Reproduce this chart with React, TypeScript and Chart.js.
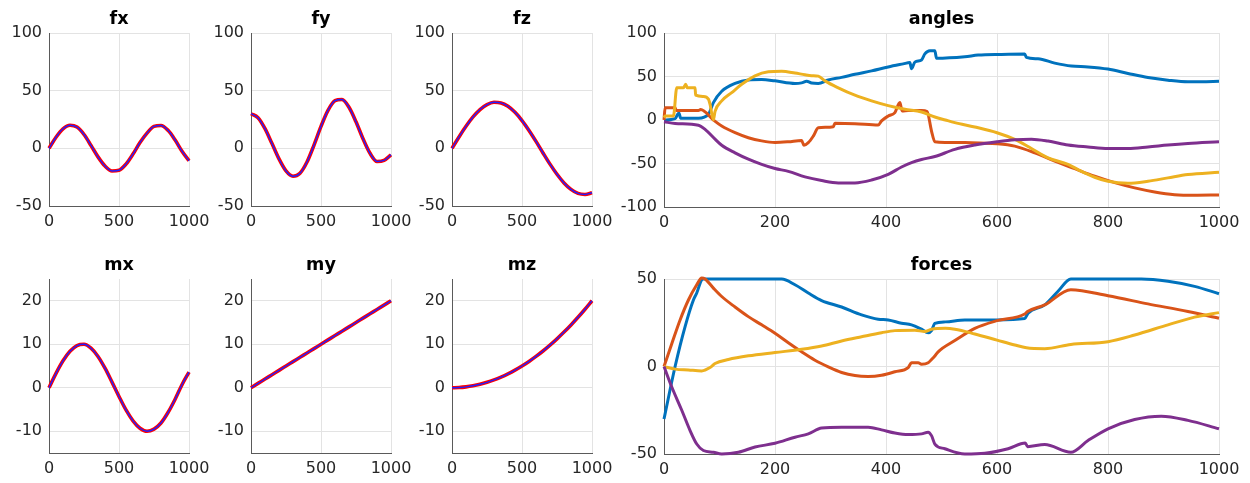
import React, { useEffect, useRef } from 'react';
import { Chart, registerables } from 'chart.js';

Chart.register(...registerables);

type Pt = [number, number];

// ---------- data ----------
const SMALL_X = [0, 50, 100, 150, 200, 250, 300, 350, 400, 450, 500, 550, 600, 650, 700, 750, 800, 850, 900, 950, 1000];

const FX = [0, 9.6, 16.9, 20.0, 18.4, 12.0, 2.5, -7.4, -15.4, -19.6, -19.0, -13.7, -5.0, 5.0, 13.2, 19.0, 19.8, 15.6, 7.4, -2.5, -10.8];
const FY = [30, 26.6, 17.1, 4.1, -9.2, -19.6, -24.2, -21.6, -11.9, 2.8, 19.0, 32.9, 41.3, 42.3, 35.6, 23.0, 8.3, -4.3, -11.4, -10.5, -5.7];
const FZ = [0, 9.9, 19.1, 27.2, 33.6, 37.9, 39.9, 39.4, 36.5, 31.2, 24.1, 15.5, 6.0, -4.0, -13.7, -22.5, -30.0, -35.6, -39.1, -40.0, -38.5];
const MX = [0, 3.3, 6.2, 8.4, 9.7, 10.0, 9.1, 7.2, 4.5, 1.3, -2.0, -5.1, -7.6, -9.3, -10.0, -9.5, -8.1, -5.7, -2.7, 0.7, 3.6];
const MY = [0, 1, 2, 3, 4, 5, 6, 7, 8, 9, 10, 11, 12, 13, 14, 15, 16, 17, 18, 19, 20];
const MZ = [0, 0.05, 0.2, 0.45, 0.8, 1.25, 1.8, 2.45, 3.2, 4.05, 5.0, 6.05, 7.2, 8.45, 9.8, 11.25, 12.8, 14.45, 16.2, 18.05, 20];

const ANG_1: Pt[] = [[0,0],[20,1.5],[24,6],[27,8],[30,2],[62,2],[80,6.5],[89,20],[104,33],[128,42],[152,46],[176,46.5],[200,45],[236,42],[248,42.7],[257,44.5],[266,42.5],[278,42],[296,46],[320,49],[344,52.5],[374,56.5],[404,61],[431,64.5],[443,66],[446,59],[452,66.5],[464,69],[470,76],[479,79.6],[488,79.6],[491,71],[542,72.7],[566,74.6],[608,75.4],[650,75.8],[653,72],[674,70.4],[704,65.4],[734,62],[764,61],[800,58.5],[836,53.5],[872,48.8],[908,45.8],[944,44],[968,44],[1000,44.5]];
const ANG_2: Pt[] = [[0,0],[2,14],[20,14],[22,11],[62,11],[66,12],[89,0],[104,-7],[128,-14.6],[152,-20.4],[176,-24],[200,-25.8],[224,-25],[248,-23.5],[252,-29],[260,-26],[269,-18.5],[278,-9],[305,-7.7],[308,-3.8],[344,-4.2],[386,-5.8],[392,-1],[404,4.6],[416,8.5],[425,20],[429,10.4],[440,10.8],[464,10.8],[474,9.6],[482,-12.7],[488,-25],[507,-25.8],[542,-26],[600,-27.3],[632,-30],[668,-37.7],[704,-47.3],[740,-56],[776,-64.6],[812,-72],[848,-78],[884,-82.7],[920,-85.8],[956,-86.5],[1000,-86.2]];
const ANG_3: Pt[] = [[0,2.7],[2,4.6],[17,4.6],[23,37],[35,37],[39,41],[42,37],[56,37],[57,28.5],[71,27],[80,24],[83,18],[89,0],[92,10],[104,22],[122,31.5],[140,41],[164,50.8],[188,55.4],[212,56],[236,54],[254,52],[266,51],[278,50.4],[290,45],[314,37],[344,28.5],[374,22],[404,16.5],[434,12.3],[464,9.2],[488,3.5],[507,0],[524,-3],[560,-8],[600,-14.6],[632,-22.3],[662,-32.7],[692,-43.5],[728,-51],[746,-57],[776,-65.8],[800,-70.4],[836,-72.7],[872,-70.4],[908,-66.5],[944,-62.7],[1000,-60]];
const ANG_4: Pt[] = [[0,-2],[20,-4],[62,-6],[74,-10.8],[92,-22],[104,-29],[128,-37.7],[152,-45],[176,-51],[200,-55.8],[224,-59],[254,-65.4],[284,-69.6],[314,-72.3],[344,-72.3],[374,-69],[404,-62.5],[428,-54],[446,-49],[464,-45.4],[488,-42],[524,-33.8],[560,-28.8],[600,-25],[632,-22.7],[662,-22],[692,-24.2],[728,-28.8],[764,-31],[800,-32.7],[836,-32.7],[872,-31],[908,-28.8],[944,-27],[1000,-25]];

const FOR_1: Pt[] = [[0,-30],[20,0],[38,22.8],[53,38],[59,42],[68,49.6],[71,50],[212,50],[236,46.7],[260,42],[284,37.7],[320,34],[356,29.5],[386,27],[404,26.6],[428,24.7],[446,23.8],[464,21.3],[476,19.3],[482,20.5],[488,24.7],[507,25.5],[542,26.6],[600,26.6],[650,27.4],[656,30.5],[686,35.2],[710,43],[733,50],[860,50],[908,48.7],[956,45.8],[1000,41.6]];
const FOR_2: Pt[] = [[0,0],[14,13],[29,26.6],[44,38],[59,46.7],[68,50.6],[74,50],[89,44.8],[104,40],[128,34],[152,28.5],[176,23.8],[200,19],[224,13.6],[248,8.4],[272,3.6],[296,-0.2],[320,-3.4],[344,-5.2],[368,-5.7],[392,-5],[416,-3],[440,-0.6],[446,2.1],[458,2.1],[464,1.3],[476,2.1],[482,4],[488,6],[494,8.4],[524,14.8],[560,21.8],[600,26.2],[650,30],[655,31.4],[686,35.2],[733,43.9],[800,40.4],[872,35.8],[944,31.4],[1000,27.6]];
const FOR_3: Pt[] = [[0,0],[20,-1.5],[44,-2],[68,-2.5],[83,-0.6],[92,1.7],[116,4],[152,6.1],[200,8],[248,9.8],[284,11.7],[320,14.6],[356,17],[392,19.3],[416,20.5],[452,20.7],[470,20],[482,21.3],[507,21.8],[524,21.3],[560,18.6],[600,15.1],[632,12.3],[653,10.7],[686,10.2],[733,12.6],[800,14.2],[848,18],[908,23.8],[956,28.2],[1000,30.8]];
const FOR_4: Pt[] = [[0,0],[14,-11.7],[32,-25],[47,-36.6],[59,-44.3],[71,-48],[89,-49],[104,-50],[134,-49],[164,-46],[200,-43.9],[236,-40.4],[260,-38.5],[284,-35.2],[320,-34.7],[368,-34.7],[392,-36.2],[416,-38],[440,-38.9],[464,-38.5],[476,-37.5],[482,-39.5],[488,-44.3],[506,-47],[542,-50],[578,-49.6],[620,-47],[651,-43.7],[655,-45.8],[686,-44.6],[733,-49],[764,-42.3],[800,-35.6],[848,-30.3],[896,-28.4],[944,-30.8],[1000,-35.6]];

const X_TICKS_SMALL = [0, 500, 1000];
const X_TICKS_BIG = [0, 200, 400, 600, 800, 1000];
const Y_TICKS_F = [-50, 0, 50, 100];
const Y_TICKS_M = [-10, 0, 10, 20];
const Y_TICKS_ANG = [-100, -50, 0, 50, 100];
const Y_TICKS_FOR = [-50, 0, 50];

// ---------- styles ----------
const FONT = 'DejaVu Sans';
const TICK_COLOR = '#262626';
const GRID_COLOR = '#e3e3e3';
const AXIS_COLOR = '#5a5a5a';
const COLORS = ['#0072BD', '#D95319', '#EDB120', '#7E2F8E'];

type Spec = {
  title: string;
  L: number; T: number; W: number; H: number;
  yMin: number; yMax: number; yTicks: number[];
  xTicks: number[];
  datasets: any[];
};

const toPts = (xs: number[], ys: number[]) => xs.map((x, i) => ({ x, y: ys[i] }));
const pairPts = (p: Pt[]) => p.map(([x, y]) => ({ x, y }));

const refPair = (ys: number[]) => [
  { data: toPts(SMALL_X, ys), borderColor: '#ff0000', borderWidth: 3.6, pointRadius: 0, cubicInterpolationMode: 'monotone', clip: 6, order: 2 },
  { data: toPts(SMALL_X, ys), borderColor: '#2020ff', borderWidth: 1.4, pointRadius: 0, cubicInterpolationMode: 'monotone', clip: 6, order: 1 },
];
const quad = (series: Pt[][]) => series.map((s, i) => ({
  data: pairPts(s), borderColor: COLORS[i], borderWidth: 3, pointRadius: 0, cubicInterpolationMode: 'monotone', clip: 6, order: 10 - i,
}));

const SPECS: Spec[] = [
  { title: 'fx', L: 49, T: 33, W: 140, H: 173, yMin: -50, yMax: 100, yTicks: Y_TICKS_F, xTicks: X_TICKS_SMALL, datasets: refPair(FX) },
  { title: 'fy', L: 251, T: 33, W: 140, H: 173, yMin: -50, yMax: 100, yTicks: Y_TICKS_F, xTicks: X_TICKS_SMALL, datasets: refPair(FY) },
  { title: 'fz', L: 452, T: 33, W: 140, H: 173, yMin: -50, yMax: 100, yTicks: Y_TICKS_F, xTicks: X_TICKS_SMALL, datasets: refPair(FZ) },
  { title: 'angles', L: 664, T: 33, W: 555, H: 174, yMin: -100, yMax: 100, yTicks: Y_TICKS_ANG, xTicks: X_TICKS_BIG, datasets: quad([ANG_1, ANG_2, ANG_3, ANG_4]) },
  { title: 'mx', L: 49, T: 279, W: 140, H: 174, yMin: -15, yMax: 25, yTicks: Y_TICKS_M, xTicks: X_TICKS_SMALL, datasets: refPair(MX) },
  { title: 'my', L: 251, T: 279, W: 140, H: 174, yMin: -15, yMax: 25, yTicks: Y_TICKS_M, xTicks: X_TICKS_SMALL, datasets: refPair(MY) },
  { title: 'mz', L: 452, T: 279, W: 140, H: 174, yMin: -15, yMax: 25, yTicks: Y_TICKS_M, xTicks: X_TICKS_SMALL, datasets: refPair(MZ) },
  { title: 'forces', L: 664, T: 279, W: 555, H: 175, yMin: -50, yMax: 50, yTicks: Y_TICKS_FOR, xTicks: X_TICKS_BIG, datasets: quad([FOR_1, FOR_2, FOR_3, FOR_4]) },
];

const PAD_L = 60, PAD_T = 40, PAD_R = 30, PAD_B = 30;
const TITLE_SIZE = 17.6;

function Panel({ spec }: { spec: Spec }) {
  const ref = useRef<HTMLCanvasElement>(null);
  const cw = spec.W + PAD_L + PAD_R;
  const ch = spec.H + PAD_T + PAD_B;
  useEffect(() => {
    const tickFont = { family: FONT, size: 16 };
    const lh = TITLE_SIZE * 1.2;
    const padTop = PAD_T - 13.2 - lh / 2;
    const chart = new Chart(ref.current!, {
      type: 'line',
      data: { datasets: spec.datasets },
      options: {
        animation: false,
        responsive: false,
        devicePixelRatio: 1,
        layout: { padding: { left: 0, top: 0, right: PAD_R, bottom: 0 } },
        plugins: {
          legend: { display: false },
          tooltip: { enabled: false },
          title: {
            display: true,
            text: spec.title,
            color: '#000000',
            align: 'center',
            fullSize: false,
            font: { family: FONT, size: TITLE_SIZE, weight: 'bold' },
            padding: { top: padTop, bottom: PAD_T - lh - padTop },
          },
        },
        scales: {
          x: {
            type: 'linear',
            min: 0,
            max: 1000,
            afterBuildTicks: (s: any) => { s.ticks = spec.xTicks.map((v) => ({ value: v })); },
            afterFit: (s: any) => { s.height = PAD_B; },
            ticks: { color: TICK_COLOR, font: tickFont, padding: 6, maxRotation: 0, autoSkip: false, callback: (v: any) => String(v) },
            grid: { color: GRID_COLOR, drawTicks: false, lineWidth: 1 },
            border: { color: AXIS_COLOR, width: 1 },
          },
          y: {
            type: 'linear',
            min: spec.yMin,
            max: spec.yMax,
            afterBuildTicks: (s: any) => { s.ticks = spec.yTicks.map((v) => ({ value: v })); },
            afterFit: (s: any) => { s.width = PAD_L; },
            ticks: { color: TICK_COLOR, font: tickFont, padding: 7, callback: (v: any) => String(v) },
            grid: { color: GRID_COLOR, drawTicks: false, lineWidth: 1 },
            border: { color: AXIS_COLOR, width: 1 },
          },
        },
      } as any,
    });
    return () => chart.destroy();
  }, []);
  return (
    <canvas
      ref={ref}
      width={cw}
      height={ch}
      style={{ position: 'absolute', left: spec.L - PAD_L, top: spec.T - PAD_T, width: cw, height: ch }}
    />
  );
}

export default function App() {
  return (
    <div style={{ position: 'absolute', left: 0, top: 0, width: 1250, height: 483, background: '#ffffff', overflow: 'hidden' }}>
      {SPECS.map((s) => <Panel key={s.title} spec={s} />)}
    </div>
  );
}
